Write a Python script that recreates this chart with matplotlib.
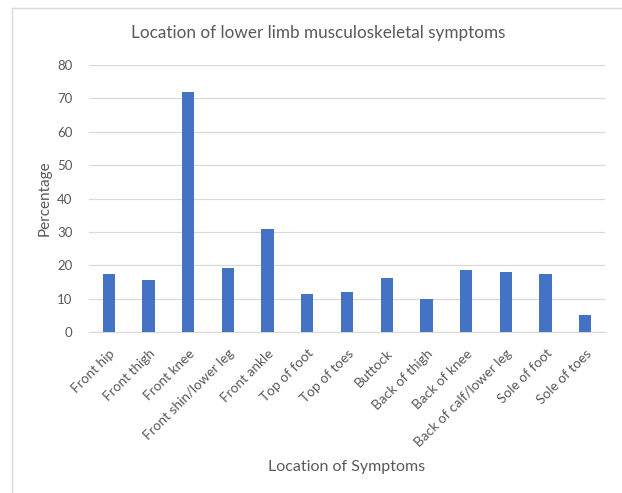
import matplotlib
matplotlib.use("Agg")
import matplotlib.pyplot as plt
from matplotlib.lines import Line2D

categories = ["Front hip", "Front thigh", "Front knee", "Front shin/lower leg",
              "Front ankle", "Top of foot", "Top of toes", "Buttock",
              "Back of thigh", "Back of knee", "Back of calf/lower leg",
              "Sole of foot", "Sole of toes"]
values = [17.5, 15.7, 71.8, 19.1, 30.9, 11.4, 12.1, 16.3, 10.0, 18.5, 17.9, 17.5, 5.0]
yticks = [0, 10, 20, 30, 40, 50, 60, 70, 80]

plt.rcParams['font.family'] = ['Lato', 'DejaVu Sans']
grey = '#595959'

fig = plt.figure(figsize=(6.22, 4.93), dpi=100)
ax = fig.add_axes([89/622, 161/493, 516/622, 267/493])

x = list(range(len(categories)))
ax.bar(x, values, width=0.31, color='#4472C4', zorder=3)
ax.set_xlim(-0.5, len(categories) - 0.5)
ax.set_ylim(0, 80)
ax.set_yticks(yticks)
ax.set_yticklabels([str(t) for t in yticks], color=grey, fontsize=9.5)
ax.set_xticks(x)
ax.set_xticklabels(categories, rotation=45, ha='right', rotation_mode='anchor',
                   color=grey, fontsize=9.8)
ax.tick_params(axis='both', length=0)
ax.tick_params(axis='y', pad=12)
ax.tick_params(axis='x', pad=11)
ax.grid(axis='y', color='#d9d9d9', linewidth=0.9, zorder=0)
for s in ['top', 'right', 'left']:
    ax.spines[s].set_visible(False)
ax.spines['bottom'].set_color('#d9d9d9')
ax.spines['bottom'].set_linewidth(0.9)

fig.text(318/622, 1 - 33/493, "Location of lower limb musculoskeletal symptoms",
         ha='center', va='center', color=grey, fontsize=12.3)
fig.text(347/622, 1 - 467/493, "Location of Symptoms", ha='center', va='center',
         color=grey, fontsize=11.5)
fig.text(45/622, 1 - 198/493, "Percentage", ha='center', va='center',
         rotation=90, color=grey, fontsize=11)

# chart border (left and top visible)
fig.add_artist(Line2D([12/622, 12/622], [0, 1 - 8/493], transform=fig.transFigure,
                      color='#d9d9d9', linewidth=1))
fig.add_artist(Line2D([12/622, 1], [1 - 8/493, 1 - 8/493], transform=fig.transFigure,
                      color='#d9d9d9', linewidth=1))

fig.savefig("out.png", dpi=100)
